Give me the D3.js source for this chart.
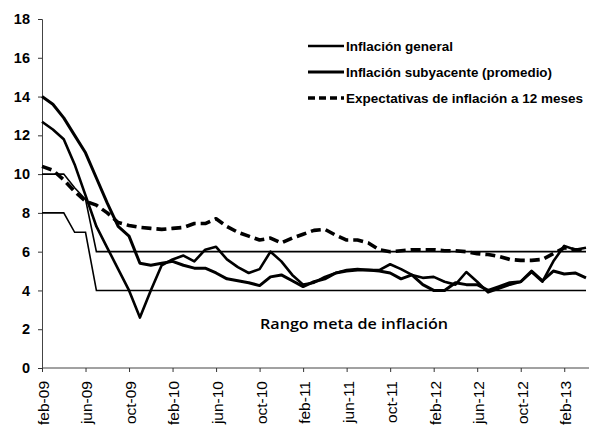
<!DOCTYPE html>
<html>
<head>
<meta charset="utf-8">
<script src="https://cdn.jsdelivr.net/npm/d3@7"></script>
<style>
  html, body { margin: 0; padding: 0; background: #fff; }
  svg { display: block; }
</style>
</head>
<body>
<div id="chart"></div>
<script>
// ---- Data ----------------------------------------------------------
const MESES_ABR = ['ene','feb','mar','abr','may','jun','jul','ago','sep','oct','nov','dic'];
// feb-09 .. abr-13
const meses = [];
for (let y = 9; y <= 13; y++) {
  MESES_ABR.forEach((m, k) => {
    if ((y === 9 && k < 1) || (y === 13 && k > 3)) return;
    meses.push(m + '-' + String(y).padStart(2, '0'));
  });
}

const general = [12.7,12.3,11.8,10.5,8.9,7.3,6.2,5.1,4.0,2.6,4.0,5.3,5.6,5.8,5.5,6.1,6.25,5.6,5.2,4.9,5.1,6.0,5.5,4.8,4.3,4.4,4.7,4.9,5.05,5.1,5.05,5.05,5.35,5.1,4.8,4.65,4.7,4.45,4.3,4.95,4.45,3.9,4.1,4.3,4.45,4.95,4.45,5.5,6.3,6.1,6.2];
const subyacente = [14.0,13.6,12.9,12.0,11.1,9.8,8.5,7.3,6.8,5.4,5.3,5.4,5.5,5.3,5.15,5.15,4.9,4.6,4.5,4.4,4.25,4.7,4.8,4.5,4.2,4.45,4.6,4.9,5.0,5.05,5.05,5.0,4.9,4.6,4.8,4.3,4.0,4.0,4.4,4.3,4.3,4.0,4.2,4.4,4.45,5.0,4.5,5.0,4.85,4.9,4.65];
const expectativas = [10.4,10.2,9.7,9.1,8.6,8.4,8.0,7.5,7.35,7.25,7.2,7.15,7.2,7.25,7.45,7.45,7.7,7.3,7.0,6.8,6.6,6.7,6.45,6.7,6.9,7.1,7.15,6.85,6.6,6.6,6.45,6.1,6.0,6.05,6.1,6.1,6.1,6.05,6.05,6.0,5.9,5.85,5.75,5.6,5.55,5.55,5.6,5.9,6.2,6.1,6.1];
const metaSup = [10,10,10,9.3,8.7,6,6,6,6,6,6,6,6,6,6,6,6,6,6,6,6,6,6,6,6,6,6,6,6,6,6,6,6,6,6,6,6,6,6,6,6,6,6,6,6,6,6,6,6,6,6];
const metaInf = [8,8,8,7,7,4,4,4,4,4,4,4,4,4,4,4,4,4,4,4,4,4,4,4,4,4,4,4,4,4,4,4,4,4,4,4,4,4,4,4,4,4,4,4,4,4,4,4,4,4,4];

const yTicks = [0,2,4,6,8,10,12,14,16,18];

const series = [
  { name: 'Inflación general',                    values: general,      width: 2.6, dash: null,   legendLen: 107 },
  { name: 'Inflación subyacente (promedio)',      values: subyacente,   width: 3,   dash: null,   legendLen: 206 },
  { name: 'Expectativas de inflación a 12 meses', values: expectativas, width: 3.6, dash: '10,5', legendLen: 237 },
];

// ---- Chart ---------------------------------------------------------
const W = 589, H = 431;
const svg = d3.select('#chart').append('svg')
  .attr('width', W).attr('height', H);

const x = d3.scalePoint().domain(meses).range([42, 586]);
const y = d3.scaleLinear().domain([0, 18]).range([368, 19]);

// axes
const yAxis = svg.append('g')
  .attr('transform', 'translate(42,0)')
  .call(d3.axisLeft(y).tickValues(yTicks).tickSize(4).tickPadding(8));
yAxis.select('.domain').attr('stroke', '#444');
yAxis.selectAll('.tick line').attr('stroke', '#333');
yAxis.selectAll('text')
  .attr('font-family', 'Liberation Sans, Arial, sans-serif')
  .attr('font-weight', 'bold')
  .attr('font-size', 14.5)
  .attr('fill', '#000');

const xAxis = svg.append('g')
  .attr('transform', 'translate(0,368)')
  .call(d3.axisBottom(x)
    .tickValues(meses.filter((d, i) => i % 4 === 0))
    .tickSize(4).tickSizeOuter(0));
xAxis.select('.domain').attr('stroke', '#444').attr('d', `M42,0H589`);
xAxis.selectAll('.tick line').attr('stroke', '#333');
xAxis.selectAll('text')
  .attr('font-family', 'Liberation Sans, Arial, sans-serif')
  .attr('font-size', 15.5)
  .attr('fill', '#000')
  .attr('transform', 'rotate(-90)')
  .attr('text-anchor', 'end')
  .attr('x', -13)
  .attr('y', 1)
  .attr('dy', '0.35em');

// target range
const line = vals => d3.line()
  .x((d, i) => x(meses[i]))
  .y(d => y(d))(vals);

[metaSup, metaInf].forEach(v => {
  svg.append('path')
    .attr('d', line(v))
    .attr('fill', 'none')
    .attr('stroke', '#000')
    .attr('stroke-width', 1.6);
});

// series
series.forEach(s => {
  svg.append('path')
    .attr('d', line(s.values))
    .attr('fill', 'none')
    .attr('stroke', '#000')
    .attr('stroke-width', s.width)
    .attr('stroke-dasharray', s.dash)
    .attr('stroke-linejoin', 'round');
});

// legend
const legend = svg.append('g');
series.forEach((s, i) => {
  const ly = 46 + i * 26;
  legend.append('line')
    .attr('x1', 308).attr('x2', 344)
    .attr('y1', ly).attr('y2', ly)
    .attr('stroke', '#000')
    .attr('stroke-width', s.width)
    .attr('stroke-dasharray', s.dash ? '7,4' : null);
  legend.append('text')
    .attr('x', 346).attr('y', ly)
    .attr('dy', '0.35em')
    .attr('font-family', 'Liberation Sans Narrow, Arial Narrow, sans-serif')
    .attr('font-weight', 'bold')
    .attr('font-size', 13)
    .attr('textLength', s.legendLen)
    .attr('lengthAdjust', 'spacingAndGlyphs')
    .text(s.name);
});

svg.append('text')
  .attr('x', 260).attr('y', 329)
  .attr('font-family', 'Open Sans, Liberation Sans, sans-serif')
  .attr('font-size', 15)
  .attr('font-weight', 600)
  .attr('textLength', 188)
  .attr('lengthAdjust', 'spacingAndGlyphs')
  .text('Rango meta de inflación');
</script>
</body>
</html>
